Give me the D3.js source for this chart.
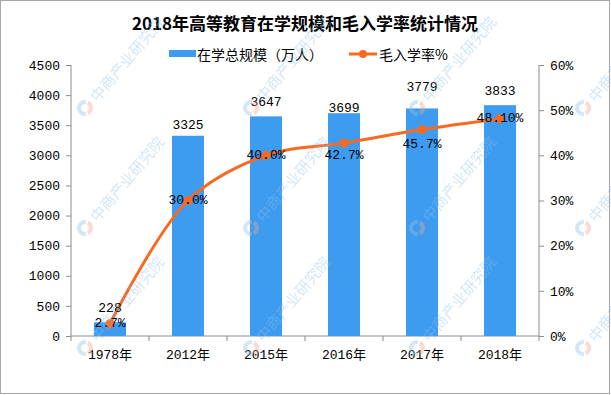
<!DOCTYPE html>
<html>
<head>
<meta charset="utf-8">
<style>
  body { margin: 0; background: #fff; }
  svg { display: block; }
</style>
</head>
<body>
<div id="chart"></div>
<script src="https://cdn.jsdelivr.net/npm/d3@7/dist/d3.min.js"></script>
<script>
  // data
  var years = ["1978年", "2012年", "2015年", "2016年", "2017年", "2018年"];
  var enrolment = [228, 3325, 3647, 3699, 3779, 3833];     // 在学总规模（万人）
  var rate = [2.7, 30.0, 40.0, 42.7, 45.7, 48.10];         // 毛入学率%
  var rateLabels = ["2.7%", "30.0%", "40.0%", "42.7%", "45.7%", "48.10%"];
  var leftTicks = [0, 500, 1000, 1500, 2000, 2500, 3000, 3500, 4000, 4500];
  var rightTicks = [0, 10, 20, 30, 40, 50, 60];

  // label nudges (layout only)
  var barLabelDy = [-14, -10, -14, -5, -21, -14];
  var lineLabelDy = [0, 0, 0, 12, 15, 0];

  var W = 611, H = 395;
  var plotL = 71, plotR = 539, plotT = 65, plotB = 336;
  var numFont = "'Liberation Mono', 'Noto Sans CJK SC', monospace";
  var barColor = "#3d9cf0", lineColor = "#f86a22", axisColor = "#8c8c8c";

  var svg = d3.select("#chart").append("svg")
    .attr("width", W).attr("height", H);

  svg.append("rect").attr("width", W).attr("height", H).attr("fill", "#fff");

  var x = d3.scaleBand().domain(years).range([plotL, plotR])
    .paddingInner(0.59).paddingOuter(0.295);
  var y = d3.scaleLinear().domain([0, 4500]).range([plotB, plotT]);
  var y2 = d3.scaleLinear().domain([0, 60]).range([plotB, plotT]);
  var cx = function(i) { return x(years[i]) + x.bandwidth() / 2; };

  // title
  svg.append("text")
    .attr("x", 305).attr("y", 22)
    .attr("text-anchor", "middle").attr("dominant-baseline", "central")
    .style("font-family", "'Noto Sans CJK SC', sans-serif")
    .style("font-weight", "bold").style("font-size", "17px")
    .text("2018年高等教育在学规模和毛入学率统计情况");

  // legend
  var lg = svg.append("g").style("font-family", "'Noto Sans CJK SC', sans-serif").style("font-size", "14px");
  lg.append("rect").attr("x", 169).attr("y", 50).attr("width", 27).attr("height", 7).attr("fill", barColor);
  lg.append("text").attr("x", 197).attr("y", 54).attr("dominant-baseline", "central").text("在学总规模（万人）");
  lg.append("line").attr("x1", 349).attr("x2", 377).attr("y1", 54).attr("y2", 54)
    .attr("stroke", lineColor).attr("stroke-width", 3);
  lg.append("circle").attr("cx", 363).attr("cy", 54).attr("r", 4).attr("fill", lineColor);
  lg.append("text").attr("x", 379).attr("y", 54).attr("dominant-baseline", "central").text("毛入学率%");

  // axes
  var yAxis = d3.axisLeft(y).tickValues(leftTicks).tickSize(5).tickPadding(6)
    .tickFormat(d3.format("d"));
  var gl = svg.append("g").attr("transform", "translate(" + plotL + ",0)").call(yAxis);
  var y2Axis = d3.axisRight(y2).tickValues(rightTicks).tickSize(5).tickPadding(6)
    .tickFormat(function(d) { return d + "%"; });
  var gr = svg.append("g").attr("transform", "translate(" + plotR + ",0)").call(y2Axis);
  [gl, gr].forEach(function(g) {
    g.select(".domain").attr("stroke", axisColor).attr("d", "M0," + plotT + "V" + plotB);
    g.selectAll(".tick line").attr("stroke", axisColor);
    g.selectAll("text").style("font-family", numFont).style("font-size", "13px").attr("fill", "#000");
  });

  // x axis: baseline, ticks at band boundaries, labels at centers
  var gx = svg.append("g");
  gx.append("line").attr("x1", plotL).attr("x2", plotR).attr("y1", plotB).attr("y2", plotB)
    .attr("stroke", axisColor);
  d3.range(years.length + 1).forEach(function(i) {
    var xx = plotL + i * x.step();
    gx.append("line").attr("x1", xx).attr("x2", xx).attr("y1", plotB).attr("y2", plotB + 5)
      .attr("stroke", axisColor);
  });
  gx.selectAll("text.xl").data(years).enter().append("text")
    .attr("class", "xl")
    .attr("x", function(d, i) { return cx(i); })
    .attr("y", 355)
    .attr("text-anchor", "middle").attr("dominant-baseline", "central")
    .style("font-family", numFont).style("font-size", "13px")
    .text(function(d) { return d; });

  // bars
  svg.selectAll("rect.bar").data(enrolment).enter().append("rect")
    .attr("class", "bar")
    .attr("x", function(d, i) { return x(years[i]); })
    .attr("width", x.bandwidth())
    .attr("y", function(d) { return y(d); })
    .attr("height", function(d) { return plotB - y(d); })
    .attr("fill", barColor);

  // line
  var line = d3.line()
    .x(function(d, i) { return cx(i); })
    .y(function(d) { return y2(d); })
    .curve(d3.curveCatmullRom.alpha(0.5));
  svg.append("path").datum(rate)
    .attr("fill", "none").attr("stroke", lineColor).attr("stroke-width", 3)
    .attr("stroke-linejoin", "round").attr("d", line);
  svg.selectAll("circle.pt").data(rate).enter().append("circle")
    .attr("class", "pt")
    .attr("cx", function(d, i) { return cx(i); })
    .attr("cy", function(d) { return y2(d); })
    .attr("r", 4.5).attr("fill", lineColor);

  // labels
  svg.selectAll("text.bl").data(enrolment).enter().append("text")
    .attr("class", "bl")
    .attr("x", function(d, i) { return cx(i); })
    .attr("y", function(d, i) { return y(d) + barLabelDy[i]; })
    .attr("text-anchor", "middle").attr("dominant-baseline", "central")
    .style("font-family", numFont).style("font-size", "13px")
    .text(function(d) { return d; });
  svg.selectAll("text.ll").data(rate).enter().append("text")
    .attr("class", "ll")
    .attr("x", function(d, i) { return cx(i); })
    .attr("y", function(d, i) { return y2(d) + lineLabelDy[i]; })
    .attr("text-anchor", "middle").attr("dominant-baseline", "central")
    .style("font-family", numFont).style("font-size", "13px")
    .text(function(d, i) { return rateLabels[i]; });

  // watermark tiles
  var wm = svg.append("g").attr("opacity", 0.4).style("pointer-events", "none");
  [-81, 85, 251, 417, 583].forEach(function(wx) {
    [-12, 108, 228, 348].forEach(function(wy) {
      var t = wm.append("g").attr("transform", "translate(" + wx + "," + wy + ")");
      t.append("path").attr("d", d3.arc()({innerRadius: 4, outerRadius: 8, startAngle: Math.PI * 0.15, endAngle: Math.PI * 0.85}))
        .attr("fill", "#f5a58a");
      t.append("path").attr("d", d3.arc()({innerRadius: 4, outerRadius: 8, startAngle: Math.PI * 0.95, endAngle: Math.PI * 2.05}))
        .attr("fill", "#8fc0e8");
      t.append("text").attr("x", 12).attr("y", 0).attr("dominant-baseline", "central")
        .attr("transform", "rotate(-50)")
        .style("font-family", "'Noto Sans CJK SC', sans-serif").style("font-size", "15px")
        .attr("fill", "#8fc0e8")
        .text("中商产业研究院");
    });
  });

  // outer frame
  svg.append("rect").attr("x", 0.5).attr("y", 0.5).attr("width", W - 2).attr("height", H - 2)
    .attr("fill", "none").attr("stroke", "#a6a6a6");
</script>
</body>
</html>
